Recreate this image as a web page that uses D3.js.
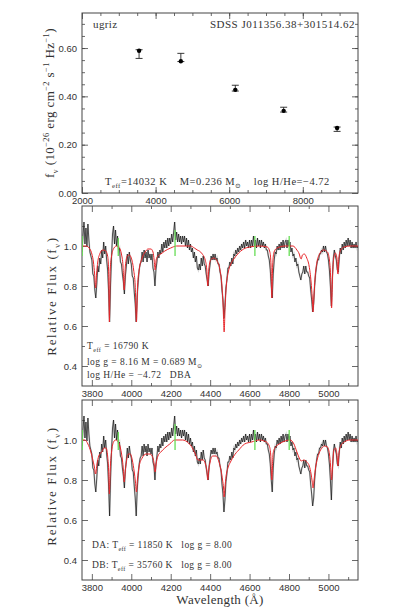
<!DOCTYPE html>
<html><head><meta charset="utf-8">
<script src="https://cdn.jsdelivr.net/npm/d3@7"></script>
<style>body{margin:0;background:#fff} svg{display:block}</style>
</head><body><svg id="c" width="419" height="607"></svg>
<script>
// ---------- DATA ----------
const bands = ["u","g","r","i","z"];
const bandWl = [3551, 4686, 6166, 7480, 8932];
const obsFlux = [0.575, 0.561, 0.434, 0.345, 0.264];
const obsErr = [0.018, 0.017, 0.012, 0.010, 0.009];
const modelFlux = [0.589, 0.545, 0.427, 0.340, 0.269];
const topXTicks = [2000, 4000, 6000, 8000];
const topYTicks = [0.00, 0.20, 0.40, 0.60];
const specXTicks = [3800, 4000, 4200, 4400, 4600, 4800, 5000];
const specYTicks = [0.4, 0.6, 0.8, 1.0];

// observed spectrum, 5 A sampling from 3750 A
const specStart = 3750, specStep = 5;
const specFlux = [
 0.97,1.05,1.12,1.01,1.09,1.00,1.11,1.03,0.97,0.95,
 0.93,0.86,0.85,0.78,0.74,0.81,0.90,0.87,0.94,0.91,
 0.98,0.94,1.02,0.96,1.00,0.93,0.88,0.77,0.62,0.81,
 0.95,1.06,1.10,1.01,1.08,1.00,1.05,0.98,0.99,0.92,
 0.91,0.86,0.82,0.76,0.85,0.90,0.96,0.91,0.97,0.93,
 0.91,0.85,0.84,0.77,0.71,0.62,0.75,0.82,0.88,0.91,
 0.92,0.97,0.92,0.98,0.94,0.97,0.92,0.98,0.94,0.96,
 0.93,0.96,0.89,0.87,0.80,0.88,0.92,0.97,0.94,0.98,
 0.96,1.01,0.97,1.02,0.99,1.03,0.99,1.04,1.00,1.04,
 1.01,1.06,1.02,1.07,1.12,1.03,1.07,1.02,1.06,1.02,
 1.05,1.01,1.05,1.02,1.05,1.00,1.04,0.99,1.03,0.98,
 1.01,0.97,0.99,0.94,0.97,0.92,0.95,0.89,0.88,0.91,
 0.88,0.94,0.90,0.95,0.91,0.90,0.86,0.83,0.80,0.87,
 0.91,0.95,0.93,0.96,0.93,0.96,0.93,0.94,0.91,0.91,
 0.87,0.85,0.78,0.73,0.64,0.70,0.79,0.83,0.89,0.89,
 0.92,0.90,0.94,0.91,0.96,0.95,0.98,0.96,0.99,0.97,
 1.00,0.98,1.01,0.99,1.02,0.99,1.03,1.00,1.02,0.99,
 1.03,0.99,1.03,1.00,1.05,1.00,1.03,0.99,1.04,1.00,
 1.03,0.99,1.03,1.00,1.02,0.99,1.01,0.98,0.98,0.95,
 0.93,0.88,0.80,0.74,0.86,0.93,0.97,0.96,1.00,0.98,
 1.01,0.98,1.02,0.99,1.03,0.99,1.02,1.03,0.99,1.03,
 1.00,1.02,0.97,0.99,0.95,0.96,0.92,0.94,0.90,0.91,
 0.87,0.85,0.83,0.86,0.87,0.90,0.86,0.90,0.87,0.87,
 0.85,0.84,0.78,0.73,0.67,0.71,0.80,0.86,0.90,0.93,
 0.93,0.96,0.96,0.98,0.97,1.00,0.97,1.00,0.97,0.96,
 0.93,0.88,0.80,0.70,0.84,0.94,0.98,0.95,0.93,0.88,
 0.87,0.94,0.99,0.96,1.01,0.98,1.02,0.99,1.03,1.00,
 1.04,1.00,1.03,0.99,1.02,0.99,1.01,0.99,1.02,0.99,
 1.00
];

// DBA model (middle panel)
const dbaWl = [3750,3770,3790,3800,3808,3814,3819,3824,3830,3840,3855,3870,3880,3885,3889,3893,3900,3912,3925,3940,3950,3958,3964,3970,3980,3990,4000,4012,4020,4026,4032,4040,4055,4070,4085,4100,4110,4116,4121,4126,4135,4150,4170,4200,4230,4300,4320,4335,4345,4360,4375,4383,4388,4393,4402,4420,4435,4450,4460,4466,4471,4476,4482,4492,4505,4520,4540,4570,4600,4650,4690,4703,4709,4713,4717,4724,4740,4780,4820,4840,4852,4858,4862,4868,4878,4890,4902,4912,4918,4922,4926,4932,4942,4955,4975,4995,5005,5011,5016,5021,5027,5035,5043,5048,5053,5062,5080,5110,5150];
const dbaFlux = [1.0,1.0,0.985,0.96,0.92,0.86,0.79,0.86,0.92,0.96,0.98,0.975,0.95,0.88,0.62,0.88,0.95,0.99,1.0,0.99,0.96,0.9,0.78,0.9,0.95,0.955,0.94,0.88,0.8,0.62,0.8,0.88,0.94,0.97,0.985,0.985,0.97,0.93,0.88,0.93,0.95,0.96,0.975,0.99,1.0,1.0,0.99,0.98,0.975,0.96,0.93,0.88,0.8,0.88,0.93,0.94,0.925,0.88,0.8,0.7,0.57,0.7,0.8,0.87,0.91,0.935,0.96,0.985,0.995,1.0,0.995,0.97,0.9,0.74,0.9,0.97,0.99,1.0,1.0,0.98,0.96,0.94,0.935,0.955,0.96,0.94,0.9,0.82,0.74,0.67,0.74,0.84,0.92,0.96,0.98,0.97,0.93,0.85,0.69,0.85,0.94,0.965,0.94,0.86,0.94,0.98,0.995,1.0,1.0];

// DA + DB composite model (bottom panel)
const mixWl = [3750,3765,3780,3795,3805,3812,3819,3826,3835,3850,3862,3872,3880,3885,3889,3893,3900,3910,3920,3935,3945,3955,3960,3964,3969,3975,3985,3995,4005,4015,4021,4026,4031,4040,4055,4075,4095,4110,4116,4121,4126,4135,4150,4170,4195,4220,4260,4290,4310,4325,4338,4350,4365,4376,4383,4388,4393,4400,4412,4430,4445,4455,4463,4468,4471,4475,4481,4490,4503,4520,4545,4575,4610,4650,4685,4700,4707,4713,4719,4728,4750,4780,4805,4825,4840,4852,4862,4875,4890,4903,4912,4918,4922,4926,4933,4945,4960,4980,4995,5005,5011,5016,5021,5028,5036,5043,5048,5053,5062,5080,5110,5150];
const mixFlux = [1.0,1.0,0.98,0.94,0.9,0.87,0.83,0.88,0.92,0.94,0.96,0.96,0.92,0.85,0.73,0.85,0.94,0.99,1.0,0.99,0.96,0.9,0.85,0.79,0.84,0.89,0.93,0.93,0.9,0.84,0.79,0.74,0.8,0.87,0.91,0.93,0.93,0.91,0.88,0.84,0.88,0.92,0.94,0.96,0.98,1.0,1.0,0.985,0.96,0.93,0.9,0.9,0.9,0.88,0.85,0.8,0.85,0.89,0.92,0.92,0.89,0.85,0.8,0.76,0.715,0.76,0.82,0.86,0.89,0.92,0.95,0.98,0.99,1.0,0.99,0.97,0.93,0.8,0.93,0.96,0.98,0.995,1.0,0.98,0.94,0.91,0.895,0.9,0.89,0.87,0.83,0.79,0.76,0.79,0.85,0.91,0.95,0.97,0.965,0.93,0.87,0.8,0.87,0.95,0.96,0.93,0.87,0.93,0.97,0.99,1.0,1.0];

// masked regions (green)
const maskWl = [3751, 3934, 4222, 4627, 4801];
const maskLo = [0.95, 0.95, 0.95, 0.95, 0.95];
const maskHi = [1.05, 1.04, 1.08, 1.05, 1.05];

// ---------- DRAW ----------
const svg = d3.select("#c");
const L = 82, R = 358;
const INK = "#333";
const serif = "'Liberation Serif','DejaVu Serif',serif";
const sans = "'Liberation Sans','DejaVu Sans',sans-serif";

function rich(g, x, y, parts, opts) {
  const t = g.append("text").attr("x", x).attr("y", y)
    .attr("font-family", opts.family || serif).attr("font-size", opts.size).attr("fill", INK)
    .attr("letter-spacing", opts.ls || 0)
    .attr("text-anchor", opts.anchor || "start");
  if (opts.rotate) t.attr("transform", `rotate(-90,${x},${y})`);
  let shift = 0;
  parts.forEach(p => {
    const target = p.sub ? 0.3 * opts.size : p.sup ? -0.42 * opts.size : 0;
    const s = t.append("tspan").text(p.t).attr("dy", target - shift);
    if (p.sub || p.sup) s.attr("font-size", opts.size * 0.65);
    shift = target;
  });
  return t;
}

function frame(top, bottom, xs, ys, xMaj, xMin, yMaj, yMin, xFmt, yFmt) {
  const g = svg.append("g");
  const ax = (gen, tx, ty, vals, size, fmt) => {
    const a = gen.tickValues(vals).tickSize(size).tickPadding(0);
    if (fmt) a.tickFormat(fmt); else a.tickFormat("");
    const sel = g.append("g").attr("transform", `translate(${tx},${ty})`).call(a);
    sel.select(".domain").remove();
    sel.selectAll("line").attr("stroke", "#444").attr("stroke-width", 0.8);
    sel.selectAll("text").attr("font-family", sans).attr("font-size", 9.5).attr("fill", INK);
    return sel;
  };
  const bx = ax(d3.axisBottom(xs), 0, bottom, xMaj, -6, xFmt);
  bx.selectAll("text").attr("y", 4);
  ax(d3.axisBottom(xs), 0, bottom, xMin, -3, null);
  ax(d3.axisTop(xs), 0, top, xMaj, -6, null);
  ax(d3.axisTop(xs), 0, top, xMin, -3, null);
  const ly = ax(d3.axisLeft(ys), L, 0, yMaj, -6, yFmt);
  ly.selectAll("text").attr("x", -5);
  ax(d3.axisLeft(ys), L, 0, yMin, -3, null);
  ax(d3.axisRight(ys), R, 0, yMaj, -6, null);
  ax(d3.axisRight(ys), R, 0, yMin, -3, null);
  g.append("rect").attr("x", L).attr("y", top).attr("width", R - L).attr("height", bottom - top)
    .attr("fill", "none").attr("stroke", "#444").attr("stroke-width", 1);
  return g;
}

const SP = "\u00a0";
// ---- top panel: photometry ----
{
  const top = 13, bottom = 193;
  const x = d3.scaleLinear().domain([2000, 9500]).range([L, R]);
  const y = d3.scaleLinear().domain([0, 0.745]).range([bottom, top]);
  frame(top, bottom, x, y, topXTicks, d3.range(2500, 9500, 500), topYTicks, d3.range(0.05, 0.745, 0.05),
        d3.format("d"), d3.format(".2f"));
  const g = svg.append("g");
  bands.forEach((b, i) => {
    const cx = x(bandWl[i]);
    const y1 = y(obsFlux[i] + obsErr[i]), y2 = y(obsFlux[i] - obsErr[i]);
    g.append("line").attr("x1", cx).attr("x2", cx).attr("y1", y1).attr("y2", y2).attr("stroke", "#222").attr("stroke-width", 0.9);
    [y1, y2].forEach(yy => g.append("line").attr("x1", cx - 3.5).attr("x2", cx + 3.5).attr("y1", yy).attr("y2", yy).attr("stroke", "#222").attr("stroke-width", 0.9));
    g.append("circle").attr("cx", cx).attr("cy", y(modelFlux[i])).attr("r", 2.2).attr("fill", "#000");
  });
  rich(g, 93, 28, [{t: "ugriz"}], {size: 11, ls: 0.4});
  rich(g, 355, 28, [{t: "SDSS J011356.38+301514.62"}], {size: 11, anchor: "end", ls: 0.5});
  rich(g, 105, 185, [{t: "T"}, {t: "eff", sub: true}, {t: "=14032 K" + SP.repeat(4) + "M=0.236 M"}, {t: "⊙", sub: true}, {t: SP.repeat(4) + "log H/He=\u22124.72"}], {size: 10.5, ls: 0.5});
  rich(g, 54, 103, [{t: "f"}, {t: "ν", sub: true}, {t: " (10"}, {t: "\u221226", sup: true}, {t: " erg cm"}, {t: "\u22122", sup: true}, {t: " s"}, {t: "\u22121", sup: true}, {t: " Hz"}, {t: "\u22121", sup: true}, {t: ")"}], {size: 13, anchor: "middle", rotate: true, ls: 0.4});
}

// ---- spectral panels ----
const specWl = specFlux.map((_, i) => specStart + i * specStep);
function specPanel(top, bottom, mWl, mFlux, idx) {
  const x = d3.scaleLinear().domain([3750, 5150]).range([L, R]);
  const y = d3.scaleLinear().domain([0.3, 1.2]).range([bottom, top]);
  frame(top, bottom, x, y, specXTicks, d3.range(3900, 5150, 200), specYTicks, [0.5, 0.7, 0.9, 1.1],
        d3.format("d"), d3.format(".1f"));
  const cid = "clip" + idx;
  svg.append("clipPath").attr("id", cid).append("rect").attr("x", L).attr("y", top).attr("width", R - L).attr("height", bottom - top);
  const g = svg.append("g").attr("clip-path", `url(#${cid})`);
  const line = d3.line().x(d => x(d[0])).y(d => y(d[1]));
  const obs = specWl.map((w, i) => [w, specFlux[i]]);
  g.append("path").attr("d", line(obs)).attr("fill", "none").attr("stroke", "#aaa").attr("stroke-width", 1.8).attr("stroke-opacity", 0.45);
  g.append("path").attr("d", line(obs)).attr("fill", "none").attr("stroke", "#111").attr("stroke-width", 0.7);
  const mline = d3.line().x(d => x(d[0])).y(d => y(d[1])).curve(d3.curveMonotoneX);
  g.append("path").attr("d", mline(mWl.map((w, i) => [w, mFlux[i]]))).attr("fill", "none").attr("stroke", "#e8262a").attr("stroke-width", 1);
  maskWl.forEach((w, i) => g.append("line").attr("x1", x(w)).attr("x2", x(w)).attr("y1", y(maskLo[i])).attr("y2", y(maskHi[i]))
    .attr("stroke", "#66dd55").attr("stroke-width", 1.3));
  return {x, y, g: svg.append("g")};
}

{
  const p = specPanel(206, 386, dbaWl, dbaFlux, 1);
  rich(p.g, 87, 349, [{t: "T"}, {t: "eff", sub: true}, {t: " = 16790 K"}], {size: 9.5, ls: 0.45});
  rich(p.g, 87, 365, [{t: "log g = 8.16 M = 0.689 M"}, {t: "⊙", sub: true}], {size: 9.5, ls: 0.45});
  rich(p.g, 87, 378, [{t: "log H/He = \u22124.72" + SP.repeat(3) + "DBA"}], {size: 9.5, ls: 0.45});
  rich(p.g, 56, 296, [{t: "Relative Flux ("}, {t: "f"}, {t: "ν", sub: true}, {t: ")"}], {size: 13, anchor: "middle", rotate: true, ls: 1.6});
}
{
  const p = specPanel(400, 580, mixWl, mixFlux, 2);
  rich(p.g, 92, 548, [{t: "DA: T"}, {t: "eff", sub: true}, {t: " = 11850 K" + SP.repeat(3) + "log g = 8.00"}], {size: 9.5, ls: 0.4});
  rich(p.g, 92, 568, [{t: "DB: T"}, {t: "eff", sub: true}, {t: " = 35760 K" + SP.repeat(3) + "log g = 8.00"}], {size: 9.5, ls: 0.4});
  rich(p.g, 56, 486, [{t: "Relative Flux ("}, {t: "f"}, {t: "ν", sub: true}, {t: ")"}], {size: 13, anchor: "middle", rotate: true, ls: 1.6});
  rich(p.g, 220, 604, [{t: "Wavelength (Å)"}], {size: 13, anchor: "middle", ls: 0.3});
}
</script></body></html>
